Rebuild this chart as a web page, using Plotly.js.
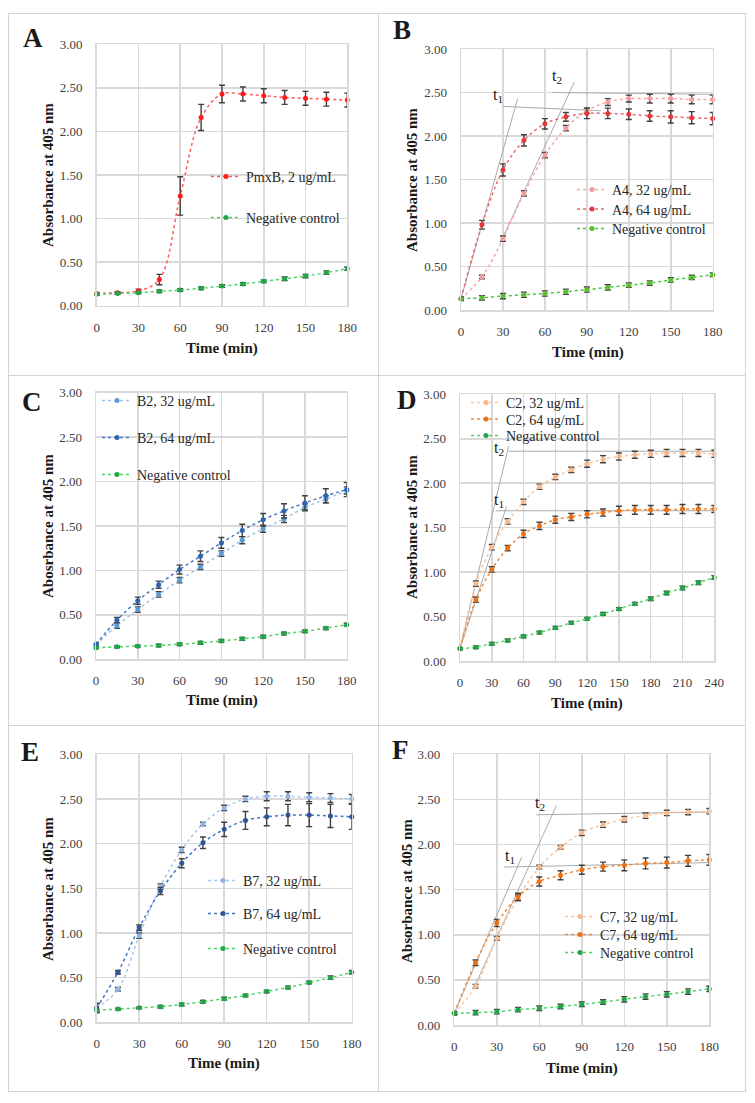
<!DOCTYPE html>
<html>
<head>
<meta charset="utf-8">
<script src="https://cdn.plot.ly/plotly-3.0.1.min.js"></script>
<style>
  body { margin: 0; background: #fff; }
  .panel { position: absolute; box-sizing: border-box; border: 1px solid #d4d4d4; }
</style>
</head>
<body>
<div id="panel-a" class="panel" style="left:8px;top:13px;width:371px;height:363px"></div>
<div id="panel-b" class="panel" style="left:378px;top:13px;width:368px;height:363px"></div>
<div id="panel-c" class="panel" style="left:8px;top:375px;width:371px;height:351px"></div>
<div id="panel-d" class="panel" style="left:378px;top:375px;width:368px;height:351px"></div>
<div id="panel-e" class="panel" style="left:8px;top:725px;width:371px;height:367px"></div>
<div id="panel-f" class="panel" style="left:378px;top:725px;width:368px;height:367px"></div>
<script>
const FONT = "'Liberation Serif', 'DejaVu Serif', serif";

// time points (min)
const t180 = [0, 15, 30, 45, 60, 75, 90, 105, 120, 135, 150, 165, 180];
const t240 = [0, 15, 30, 45, 60, 75, 90, 105, 120, 135, 150, 165, 180, 195, 210, 225, 240];

// A - PmxB
const aPmx = [0.14, 0.15, 0.17, 0.30, 1.26, 2.16, 2.43, 2.43, 2.41, 2.39, 2.38, 2.37, 2.36];
const aPmxErr = [0.01, 0.01, 0.02, 0.06, 0.22, 0.15, 0.10, 0.08, 0.08, 0.08, 0.08, 0.08, 0.08];
const aNeg = [0.13, 0.14, 0.15, 0.165, 0.18, 0.20, 0.225, 0.25, 0.28, 0.31, 0.34, 0.38, 0.425];
const aNegErr = [0.01, 0.01, 0.01, 0.015, 0.015, 0.015, 0.015, 0.015, 0.015, 0.02, 0.02, 0.02, 0.02];

// B - A4
const b32 = [0.13, 0.38, 0.82, 1.34, 1.78, 2.09, 2.29, 2.39, 2.43, 2.43, 2.43, 2.42, 2.42];
const b32Err = [0.01, 0.02, 0.03, 0.03, 0.03, 0.03, 0.03, 0.04, 0.04, 0.05, 0.05, 0.05, 0.05];
const b64 = [0.13, 0.98, 1.61, 1.95, 2.14, 2.22, 2.26, 2.26, 2.25, 2.23, 2.22, 2.21, 2.20];
const b64Err = [0.01, 0.05, 0.07, 0.065, 0.06, 0.05, 0.06, 0.06, 0.06, 0.06, 0.07, 0.07, 0.07];
const bNeg = [0.13, 0.14, 0.16, 0.175, 0.19, 0.21, 0.235, 0.26, 0.285, 0.31, 0.345, 0.375, 0.405];
const bNegErr = [0.02, 0.025, 0.03, 0.03, 0.03, 0.03, 0.03, 0.03, 0.025, 0.025, 0.025, 0.025, 0.02];
const bTan1X = [0, 40.5], bTan1Y = [0.13, 2.43];
const bTan2X = [29, 81], bTan2Y = [0.80, 2.62];
const bFlat1X = [30, 100], bFlat1Y = [2.34, 2.29];
const bFlat2X = [65, 180], bFlat2Y = [2.50, 2.48];

// C - B2
const c32 = [0.16, 0.38, 0.56, 0.73, 0.89, 1.04, 1.19, 1.34, 1.47, 1.58, 1.71, 1.80, 1.90];
const c32Err = [0.02, 0.03, 0.03, 0.03, 0.03, 0.03, 0.03, 0.04, 0.04, 0.04, 0.04, 0.04, 0.04];
const c64 = [0.17, 0.44, 0.66, 0.84, 1.01, 1.16, 1.31, 1.45, 1.57, 1.67, 1.76, 1.84, 1.91];
const c64Err = [0.02, 0.03, 0.04, 0.04, 0.05, 0.06, 0.06, 0.07, 0.07, 0.08, 0.08, 0.08, 0.08];
const cNeg = [0.13, 0.14, 0.148, 0.155, 0.17, 0.185, 0.207, 0.23, 0.255, 0.29, 0.315, 0.35, 0.39];
const cNegErr = [0.01, 0.01, 0.01, 0.015, 0.015, 0.015, 0.015, 0.015, 0.015, 0.015, 0.015, 0.015, 0.015];

// D - C2 (240 min)
const d32 = [0.14, 0.87, 1.28, 1.57, 1.79, 1.96, 2.07, 2.15, 2.22, 2.27, 2.30, 2.32, 2.33, 2.34, 2.34, 2.34, 2.33];
const d32Err = [0.01, 0.03, 0.03, 0.03, 0.03, 0.03, 0.03, 0.03, 0.04, 0.04, 0.04, 0.04, 0.04, 0.04, 0.04, 0.04, 0.04];
const d64 = [0.14, 0.69, 1.03, 1.27, 1.43, 1.52, 1.59, 1.62, 1.65, 1.67, 1.69, 1.70, 1.70, 1.70, 1.71, 1.71, 1.71];
const d64Err = [0.01, 0.03, 0.03, 0.03, 0.04, 0.04, 0.04, 0.04, 0.04, 0.04, 0.05, 0.05, 0.05, 0.05, 0.05, 0.05, 0.04];
const dNeg = [0.14, 0.155, 0.195, 0.232, 0.277, 0.32, 0.375, 0.43, 0.475, 0.53, 0.585, 0.645, 0.70, 0.765, 0.82, 0.88, 0.94];
const dNegErr = [0.01, 0.015, 0.015, 0.015, 0.015, 0.015, 0.015, 0.015, 0.015, 0.015, 0.015, 0.015, 0.02, 0.02, 0.02, 0.02, 0.02];
const dTan1X = [0, 44], dTan1Y = [0.14, 1.74];
const dTan2X = [0, 46], dTan2Y = [0.14, 2.42];
const dFlat1X = [34, 240], dFlat1Y = [1.69, 1.69];
const dFlat2X = [46, 240], dFlat2Y = [2.36, 2.36];

// E - B7
const e32 = [0.16, 0.37, 0.97, 1.52, 1.93, 2.22, 2.40, 2.50, 2.53, 2.53, 2.52, 2.51, 2.50];
const e32Err = [0.05, 0.02, 0.03, 0.03, 0.03, 0.02, 0.03, 0.03, 0.05, 0.05, 0.05, 0.05, 0.05];
const e64 = [0.16, 0.56, 1.06, 1.47, 1.78, 2.01, 2.16, 2.26, 2.30, 2.32, 2.32, 2.31, 2.30];
const e64Err = [0.05, 0.02, 0.03, 0.04, 0.05, 0.065, 0.08, 0.10, 0.10, 0.12, 0.13, 0.13, 0.14];
const eNeg = [0.135, 0.148, 0.162, 0.175, 0.20, 0.23, 0.265, 0.30, 0.345, 0.39, 0.445, 0.50, 0.56];
const eNegErr = [0.01, 0.01, 0.01, 0.015, 0.015, 0.015, 0.015, 0.015, 0.015, 0.015, 0.015, 0.02, 0.02];

// F - C7
const f32 = [0.13, 0.43, 0.96, 1.41, 1.75, 1.97, 2.13, 2.22, 2.28, 2.32, 2.35, 2.36, 2.37];
const f32Err = [0.01, 0.02, 0.02, 0.03, 0.02, 0.02, 0.03, 0.03, 0.03, 0.03, 0.03, 0.03, 0.03];
const f64 = [0.13, 0.69, 1.13, 1.42, 1.59, 1.66, 1.72, 1.755, 1.77, 1.79, 1.80, 1.82, 1.83];
const f64Err = [0.01, 0.03, 0.04, 0.04, 0.05, 0.05, 0.05, 0.05, 0.06, 0.06, 0.06, 0.06, 0.06];
const fNeg = [0.13, 0.137, 0.148, 0.17, 0.185, 0.205, 0.23, 0.255, 0.285, 0.315, 0.34, 0.37, 0.40];
const fNegErr = [0.02, 0.025, 0.025, 0.025, 0.025, 0.025, 0.025, 0.025, 0.03, 0.03, 0.03, 0.03, 0.03];
const fTan1X = [0, 47.6], fTan1Y = [0.13, 1.86];
const fTan2X = [15, 72], fTan2Y = [0.45, 2.43];
const fFlat1X = [35, 180], fFlat1Y = [1.75, 1.80];
const fFlat2X = [58, 180], fFlat2Y = [2.33, 2.36];

const GREEN = {marker: '#21a645', line: '#4fd16a'};

document.addEventListener('DOMContentLoaded', function() {
    createPanelA();
    createPanelB();
    createPanelC();
    createPanelD();
    createPanelE();
    createPanelF();
});

// one dotted, smoothed series with error bars
function series(x, y, err, name, markerColor, lineColor, legend) {
    return {
        x: x, y: y, name: name, legend: legend, showlegend: true,
        type: 'scatter', mode: 'lines+markers',
        line: {color: lineColor, width: 1.5, dash: 'dot', shape: 'spline', smoothing: 1},
        marker: {color: markerColor, size: 5},
        error_y: {type: 'data', array: err, visible: true, color: '#404040', thickness: 1.4, width: 3},
        cliponaxis: false
    };
}

// grey tangent / plateau guide
function guide(x, y) {
    return {
        x: x, y: y, type: 'scatter', mode: 'lines',
        line: {color: '#aaaaaa', width: 1},
        showlegend: false, hoverinfo: 'skip'
    };
}

// box: panel div in page px, plot: plot area in page px
function drawPanel(id, box, plot, xmax, traces, legends, notes) {
    const ox = box.left + 1, oy = box.top + 1;
    const iw = box.w - 2, ih = box.h - 2;
    const fx = x => (x - ox) / iw;
    const fy = y => 1 - (y - oy) / ih;

    const axisCommon = {
        showgrid: true, gridcolor: '#d9d9d9', gridwidth: 1.5,
        showline: true, linecolor: '#d9d9d9', linewidth: 1.5, mirror: true,
        zeroline: false, ticks: '', fixedrange: true,
        tickfont: {family: FONT, size: 13, color: '#404040'}
    };

    const layout = {
        width: iw, height: ih,
        margin: {l: 0, r: 0, t: 0, b: 0},
        showlegend: true,
        font: {family: FONT},
        paper_bgcolor: '#ffffff', plot_bgcolor: '#ffffff',
        xaxis: Object.assign({}, axisCommon, {
            domain: [fx(plot.x0), fx(plot.x1)], range: [0, xmax],
            tick0: 0, dtick: 30, ticklabelstandoff: 9
        }),
        yaxis: Object.assign({}, axisCommon, {
            domain: [fy(plot.y1), fy(plot.y0)], range: [0, 3],
            tick0: 0, dtick: 0.5, tickformat: '.2f', ticklabelstandoff: 10
        }),
        annotations: notes.map(n => ({
            text: n.text,
            xref: n.data ? 'x' : 'paper', yref: n.data ? 'y' : 'paper',
            x: n.data ? n.x : fx(n.x), y: n.data ? n.y : fy(n.y),
            xanchor: 'center', yanchor: 'middle', showarrow: false,
            textangle: n.angle || 0,
            font: {family: FONT, size: n.size, color: '#1a1a1a'}
        }))
    };

    legends.forEach((lg, i) => {
        layout[i === 0 ? 'legend' : 'legend' + (i + 1)] = {
            visible: true,
            x: fx(lg[0] - 40), xanchor: 'left',
            y: fy(lg[1]), yanchor: 'middle',
            bgcolor: 'rgba(0,0,0,0)', borderwidth: 0,
            font: {family: FONT, size: 14, color: '#262626'}
        };
    });

    Plotly.newPlot(id, traces, layout, {staticPlot: true});
}

function labels(letter, lx, ly, yx, yy, xx, xy, ytitle) {
    return [
        {text: '<b>' + letter + '</b>', x: lx, y: ly, size: 27},
        {text: '<b>' + (ytitle || 'Absorbance at 405 nm') + '</b>', x: yx, y: yy, size: 15, angle: -90},
        {text: '<b>Time (min)</b>', x: xx, y: xy, size: 15}
    ];
}

function createPanelA() {
    const traces = [
        series(t180, aPmx, aPmxErr, 'PmxB, 2 ug/mL', '#ff1a1a', '#ff5a5a', 'legend'),
        series(t180, aNeg, aNegErr, 'Negative control', GREEN.marker, GREEN.line, 'legend2')
    ];
    drawPanel('panel-a', {left: 8, top: 13, w: 371, h: 363},
        {x0: 96.7, x1: 347.3, y0: 44.3, y1: 305.7}, 180, traces,
        [[246, 177], [246, 218]],
        labels('A', 33, 38, 48, 175, 222, 348));
}

function createPanelB() {
    const traces = [
        guide(bTan1X, bTan1Y), guide(bTan2X, bTan2Y),
        guide(bFlat1X, bFlat1Y), guide(bFlat2X, bFlat2Y),
        series(t180, b32, b32Err, 'A4, 32 ug/mL', '#f19c9c', '#f4a8a8', 'legend'),
        series(t180, b64, b64Err, 'A4, 64 ug/mL', '#e0393e', '#e86a6a', 'legend2'),
        series(t180, bNeg, bNegErr, 'Negative control', '#5cbf2a', '#3ccf3c', 'legend3')
    ];
    const notes = labels('B', 402, 30, 412, 180, 588, 352).concat([
        {text: 't<sub>1</sub>', x: 26.7, y: 2.47, size: 16, data: true},
        {text: 't<sub>2</sub>', x: 68.4, y: 2.68, size: 16, data: true}
    ]);
    drawPanel('panel-b', {left: 378, top: 13, w: 368, h: 363},
        {x0: 461, x1: 712.7, y0: 49, y1: 310}, 180, traces,
        [[612, 190], [612, 209.5], [612, 229]], notes);
}

function createPanelC() {
    const traces = [
        series(t180, c32, c32Err, 'B2, 32 ug/mL', '#5b9bd5', '#9dc3e6', 'legend'),
        series(t180, c64, c64Err, 'B2, 64 ug/mL', '#2e64b0', '#4a78c2', 'legend2'),
        series(t180, cNeg, cNegErr, 'Negative control', GREEN.marker, GREEN.line, 'legend3')
    ];
    drawPanel('panel-c', {left: 8, top: 375, w: 371, h: 351},
        {x0: 96, x1: 346.7, y0: 392.7, y1: 659.3}, 180, traces,
        [[137, 401], [137, 438], [137, 475]],
        labels('C', 32, 402, 48, 526, 222, 700, 'Abosrbance at 405 nm'));
}

function createPanelD() {
    const traces = [
        guide(dTan1X, dTan1Y), guide(dTan2X, dTan2Y),
        guide(dFlat1X, dFlat1Y), guide(dFlat2X, dFlat2Y),
        series(t240, d32, d32Err, 'C2, 32 ug/mL', '#f8b88b', '#f9c79f', 'legend'),
        series(t240, d64, d64Err, 'C2, 64 ug/mL', '#ed7014', '#f08a3c', 'legend2'),
        series(t240, dNeg, dNegErr, 'Negative control', GREEN.marker, GREEN.line, 'legend3')
    ];
    const notes = labels('D', 407, 400, 412, 527, 587, 703).concat([
        {text: 't<sub>2</sub>', x: 37, y: 2.39, size: 16, data: true},
        {text: 't<sub>1</sub>', x: 37, y: 1.80, size: 16, data: true}
    ]);
    drawPanel('panel-d', {left: 378, top: 375, w: 368, h: 351},
        {x0: 460, x1: 714.3, y0: 394.3, y1: 661}, 240, traces,
        [[506, 403], [506, 419.5], [506, 436]], notes);
}

function createPanelE() {
    const traces = [
        series(t180, e32, e32Err, 'B7, 32 ug/mL', '#8fb4e3', '#a9c8ec', 'legend'),
        series(t180, e64, e64Err, 'B7, 64 ug/mL', '#2f5597', '#4472c4', 'legend2'),
        series(t180, eNeg, eNegErr, 'Negative control', GREEN.marker, GREEN.line, 'legend3')
    ];
    drawPanel('panel-e', {left: 8, top: 725, w: 371, h: 367},
        {x0: 96.7, x1: 351.7, y0: 754.3, y1: 1022.3}, 180, traces,
        [[243, 881], [243, 914], [243, 949]],
        labels('E', 30, 752, 48, 889, 224, 1063));
}

function createPanelF() {
    const traces = [
        guide(fTan1X, fTan1Y), guide(fTan2X, fTan2Y),
        guide(fFlat1X, fFlat1Y), guide(fFlat2X, fFlat2Y),
        series(t180, f32, f32Err, 'C7, 32 ug/mL', '#f8b88b', '#f9c79f', 'legend'),
        series(t180, f64, f64Err, 'C7, 64 ug/mL', '#ed7014', '#f08a3c', 'legend2'),
        series(t180, fNeg, fNegErr, 'Negative control', GREEN.marker, GREEN.line, 'legend3')
    ];
    const notes = labels('F', 400, 750, 407, 891, 582, 1068).concat([
        {text: 't<sub>2</sub>', x: 60.5, y: 2.46, size: 16, data: true},
        {text: 't<sub>1</sub>', x: 39.3, y: 1.87, size: 16, data: true}
    ]);
    drawPanel('panel-f', {left: 378, top: 725, w: 368, h: 367},
        {x0: 454.3, x1: 709.3, y0: 754.3, y1: 1025}, 180, traces,
        [[600, 917], [600, 935], [600, 953]], notes);
}
</script>
</body>
</html>
